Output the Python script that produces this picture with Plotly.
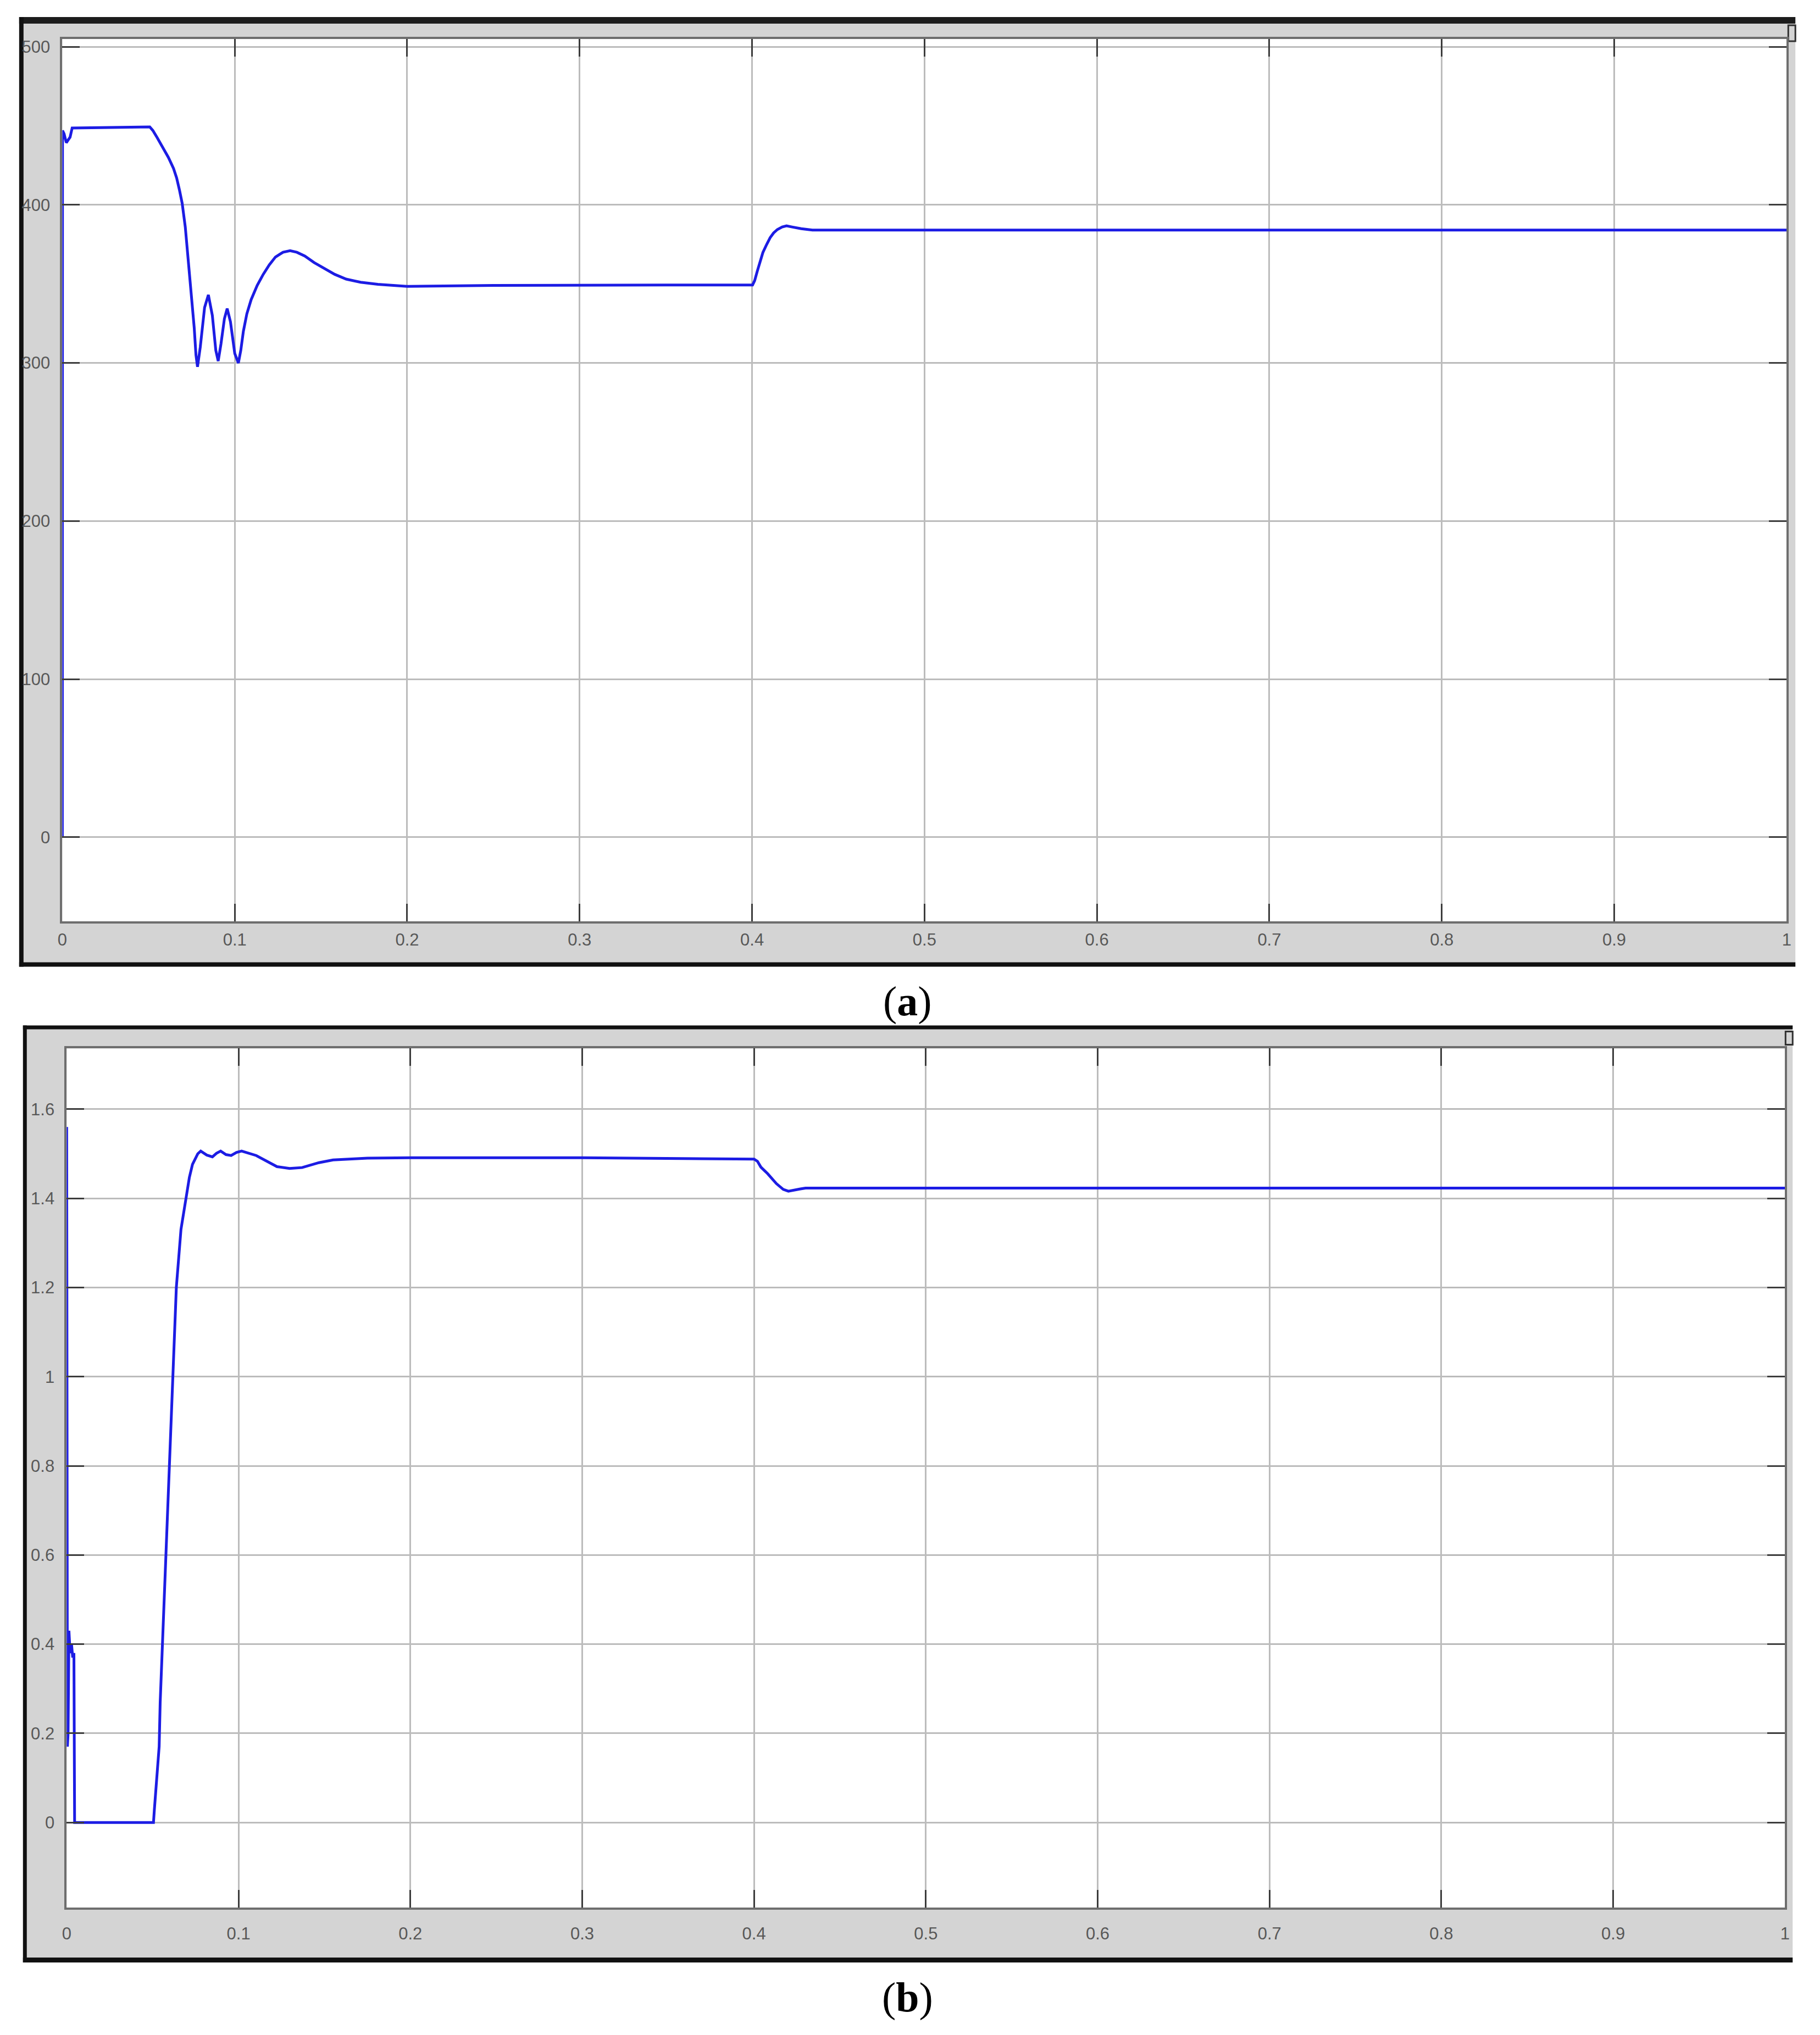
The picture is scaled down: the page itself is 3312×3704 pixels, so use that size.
import plotly.graph_objects as go

W, H = 3312, 3704

# (a) upper trace, time [s] and value
t_a = [0, 0.0001, 0.001, 0.0023, 0.0045, 0.0057, 0.0507, 0.0525, 0.055, 0.058,
       0.0615, 0.0645, 0.0663, 0.068, 0.0695, 0.0713, 0.0725, 0.0734, 0.0745, 0.0755,
       0.0765, 0.0775, 0.0784, 0.080, 0.0825, 0.0847, 0.087, 0.089, 0.0904, 0.092,
       0.094, 0.0956, 0.0975, 0.100, 0.1021, 0.1035, 0.105, 0.107, 0.1095, 0.113,
       0.1165, 0.12, 0.1236, 0.128, 0.1321, 0.136, 0.1406, 0.146, 0.1519, 0.158,
       0.1646, 0.173, 0.183, 0.2, 0.25, 0.3, 0.35, 0.4003, 0.4015, 0.4031,
       0.4047, 0.4063, 0.4085, 0.4105, 0.4125, 0.4147, 0.4175, 0.42, 0.4232, 0.4285,
       0.435, 1.0]
v_a = [0, 447, 445, 439.3, 442.8, 448.6, 449.3, 447, 442.5, 437,
       430, 423, 417, 409, 401, 386, 372, 360, 348, 338,
       322, 305, 297.5, 310, 335, 343, 330, 308, 301.2, 312,
       328, 334.4, 326, 306, 299.9, 308, 320, 331, 340, 349,
       356, 362, 367, 370, 371, 370, 367.6, 363.5, 359.7, 356,
       353, 351, 349.7, 348.4, 349, 349.3, 349.3, 349.3, 352, 358.3,
       364.5, 369.9, 375, 379.2, 382.2, 384.4, 386, 386.7, 386, 384.9,
       384, 384]

# (b) lower trace
t_b = [0, 0.0004, 0.0008, 0.0013, 0.002, 0.0028, 0.0035, 0.0042, 0.0046, 0.0505,
       0.051, 0.0526, 0.0538, 0.0544, 0.055, 0.0578, 0.0615, 0.0638, 0.0665, 0.0685,
       0.0714, 0.0732, 0.0763, 0.078, 0.0815, 0.0848, 0.0872, 0.0896, 0.0927, 0.0957,
       0.0988, 0.1018, 0.1103, 0.1224, 0.1297, 0.137, 0.1468, 0.155, 0.175, 0.2,
       0.3, 0.4, 0.402, 0.404, 0.408, 0.413, 0.417, 0.42, 0.424, 0.427,
       0.43, 1.0]
v_b = [1.56, 0.17, 0.20, 0.43, 0.38, 0.40, 0.37, 0.38, 0.0, 0.0,
       0.028, 0.118, 0.17, 0.269, 0.33, 0.6, 1.0, 1.2, 1.33, 1.38,
       1.447, 1.476, 1.50, 1.506, 1.497, 1.493, 1.501, 1.506, 1.498, 1.496,
       1.503, 1.506, 1.496, 1.471, 1.467, 1.469, 1.48, 1.486, 1.49, 1.491,
       1.491, 1.488, 1.483, 1.47, 1.455, 1.433, 1.42, 1.416, 1.418, 1.421,
       1.423, 1.423]

ticks_a = [0, 100, 200, 300, 400, 500]
ticks_b = [0, 0.2, 0.4, 0.6, 0.8, 1, 1.2, 1.4, 1.6]
ticks_x = [0, 0.1, 0.2, 0.3, 0.4, 0.5, 0.6, 0.7, 0.8, 0.9, 1]
captions = ["(<b>a</b>)", "(<b>b</b>)"]


def fx(p):
    return p / W


def fy(p):
    return 1 - p / H


line_color = "rgb(28,28,228)"
grid_color = "#bcbcbc"
label_font = dict(family="Liberation Sans Narrow, Arial Narrow, Liberation Sans", size=31,
                  color="#585858")

fig = go.Figure()
fig.add_trace(go.Scatter(x=t_a, y=v_a, mode="lines", line=dict(color=line_color, width=5),
                         xaxis="x", yaxis="y", showlegend=False))
fig.add_trace(go.Scatter(x=t_b, y=v_b, mode="lines", line=dict(color=line_color, width=5),
                         xaxis="x2", yaxis="y2", showlegend=False))

axis_style = dict(
    showline=True, linecolor="#6e6e6e", linewidth=4, mirror="ticks",
    ticks="inside", ticklen=32, tickwidth=3, tickcolor="#3c3c3c",
    showgrid=True, gridcolor=grid_color, gridwidth=3, zeroline=False,
    tickfont=label_font,
)

fig.update_layout(
    width=W, height=H,
    margin=dict(l=0, r=0, t=0, b=0),
    paper_bgcolor="white", plot_bgcolor="white",
    xaxis=dict(domain=[fx(105), fx(3260)], range=[0, 1], tickvals=ticks_x,
               anchor="y", ticklabelstandoff=3, **axis_style),
    yaxis=dict(domain=[fy(1675), fy(68)], range=[-53.1, 504.9], tickvals=ticks_a,
               anchor="x", ticklabelstandoff=12, **axis_style),
    xaxis2=dict(domain=[fx(113), fx(3257)], range=[0, 1], tickvals=ticks_x,
                anchor="y2", ticklabelstandoff=17, **axis_style),
    yaxis2=dict(domain=[fy(3472), fy(1907)], range=[-0.191, 1.736], tickvals=ticks_b,
                anchor="x2", ticklabelstandoff=12, **axis_style),
)


def rect(x0, y0, x1, y1, fill, line=None):
    return dict(type="rect", xref="paper", yref="paper", layer="below",
                x0=fx(x0), x1=fx(x1), y0=fy(y1), y1=fy(y0), fillcolor=fill,
                line=dict(width=0) if line is None else line)


shapes = []
# panel (a) window frame
shapes.append(rect(26, 28, 3276, 1758, "rgb(212,212,212)"))
shapes.append(rect(105, 68, 3260, 1675, "white"))
shapes.append(rect(26, 28, 3276, 40, "#1c1c1c"))
shapes.append(rect(26, 28, 34, 1758, "#111111"))
shapes.append(rect(26, 1750, 3276, 1758, "#111111"))
shapes.append(rect(3263, 43, 3276, 72, "rgb(212,212,212)", dict(color="#303030", width=3)))
# panel (b) window frame
shapes.append(rect(33, 1865, 3271, 3572, "rgb(212,212,212)"))
shapes.append(rect(113, 1907, 3257, 3472, "white"))
shapes.append(rect(33, 1865, 3271, 1872, "#111111"))
shapes.append(rect(33, 1865, 40, 3572, "#111111"))
shapes.append(rect(33, 3563, 3271, 3572, "#111111"))
shapes.append(rect(3258, 1876, 3271, 1900, "rgb(212,212,212)", dict(color="#303030", width=3)))
fig.update_layout(shapes=shapes)

for text, cy in zip(captions, [1821, 3635]):
    fig.add_annotation(text=text, xref="paper", yref="paper", x=fx(1651), y=fy(cy),
                       xanchor="center", yanchor="middle", showarrow=False,
                       font=dict(family="Liberation Serif, DejaVu Serif", size=76, color="black"))

# drop the browser's default body margin so the figure sits at the page origin
fig.write_html("out.html", config={"displayModeBar": False},
               post_script="document.body.style.margin = '0px';")
